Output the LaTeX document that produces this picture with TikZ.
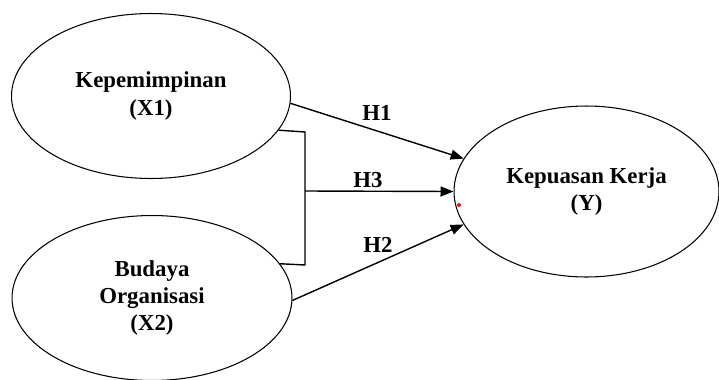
\documentclass[tikz,border=0pt]{standalone}
\usepackage{fontspec}
\setmainfont{Liberation Serif}
\usetikzlibrary{shapes.geometric,arrows.meta}
\begin{document}
\begin{tikzpicture}[x=0.02cm,y=-0.02cm,
    varbox/.style={shape=ellipse,draw,line width=0.6pt,inner sep=0pt,align=center,
      font=\fontsize{13}{15.5}\selectfont\bfseries},
    hyparrow/.style={line width=0.8pt,-{Triangle[length=0.26cm,width=0.2cm]}},
    hyplabel/.style={font=\fontsize{13}{15.5}\selectfont\bfseries}]
    \useasboundingbox (0,0) rectangle (719,379);
    \definecolor{dotred}{RGB}{230,20,20}
    \node[varbox,minimum width=5.58cm,minimum height=3.3cm] (x1) at (151,96) {Kepemimpinan\\(X1)};
    \node[varbox,minimum width=5.6cm,minimum height=3.3cm] (x2) at (152,298) {Budaya\\Organisasi\\(X2)};
    \node[varbox,minimum width=5.3cm,minimum height=3.42cm] (y) at (586.5,191.5) {Kepuasan Kerja\\(Y)};
    % bracket for the joint effect
    \coordinate (bt) at (305,132);
    \coordinate (bm) at (305,191);
    \coordinate (bb) at (305,265);
    \draw[line width=0.8pt] (x1.-15) -- (bt) -- (bb) -- (x2.15);
    \draw[hyparrow] (x1.-3) to (y.165);
    \draw[hyparrow] (bm) to (y.180);
    \draw[hyparrow] (x2.-1) to (y.195);
    \node[hyplabel] (h1) at (377,113) {H1};
    \node[hyplabel] (h3) at (368,180) {H3};
    \node[hyplabel] (h2) at (378,245) {H2};
    \node[shape=circle,fill=dotred,inner sep=0pt,minimum size=0.08cm] (dot) at (459,205) {};
\end{tikzpicture}
\end{document}
